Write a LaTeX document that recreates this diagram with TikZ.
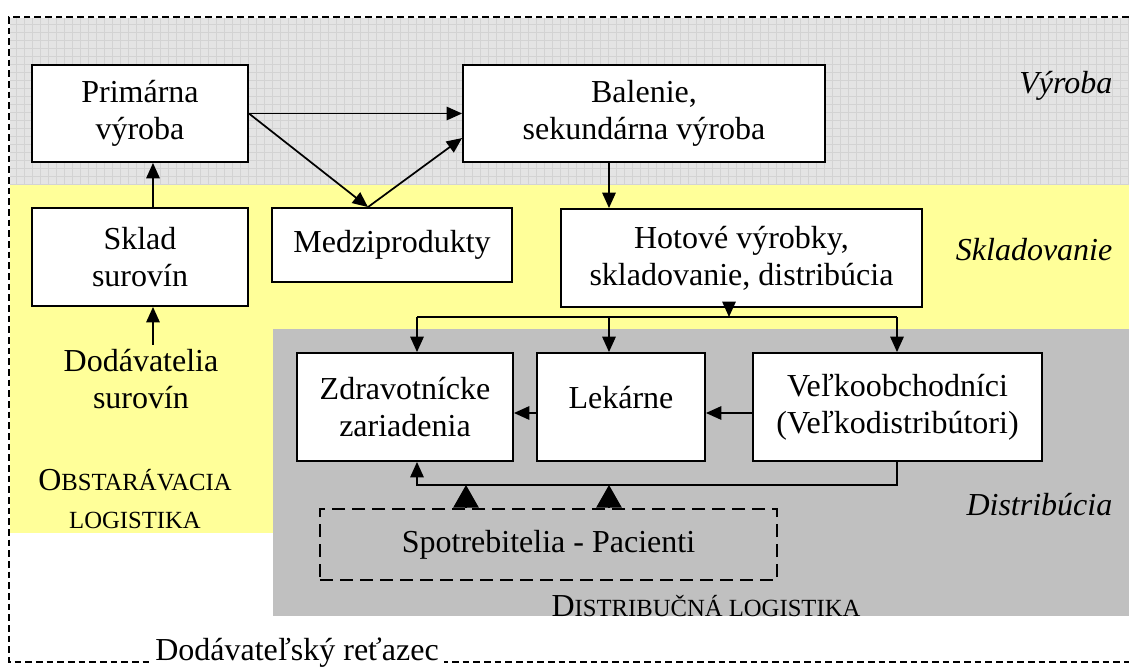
\documentclass[tikz,border=0pt]{standalone}
\usepackage{fontspec}
\setmainfont{Liberation Serif}
\usetikzlibrary{arrows.meta}

\definecolor{vyrobagray}{HTML}{E4E4E4}
\definecolor{gridgray}{HTML}{D3D3D3}
\definecolor{skladyellow}{HTML}{FFFF99}
\definecolor{distrgray}{HTML}{C0C0C0}

\newcommand{\scfake}[1]{{\fontsize{18.5}{28.5}\selectfont #1}}

\begin{document}
\begin{tikzpicture}[x=0.75pt,y=-0.75pt,
    font=\fontsize{24}{27.75}\selectfont,
    box/.style={draw, line width=1.4pt, fill=white, align=center, inner sep=2pt},
    conn/.style={line width=1.3pt},
    arr/.style={conn, -{Triangle[length=11.5pt,width=10pt]}},
    bigarr/.style={conn, -{Triangle[length=17pt,width=19pt]}},
    frame/.style={line width=1pt, dash pattern=on 5pt off 3pt},
    side/.style={anchor=base east, font=\fontsize{24}{27.75}\selectfont\itshape}]

    \useasboundingbox (0,0) rectangle (1129,671);

    % Background bands
    \fill[vyrobagray] (10,18) rectangle (1129,185);
    \draw[gridgray, line width=0.6pt, step=6pt] (10,18) grid (1129,185);
    \fill[skladyellow] (10,185) rectangle (1129,330);
    \fill[skladyellow] (10,330) rectangle (273,533);
    \fill[distrgray] (273,329) rectangle (1129,616);

    % Outer dashed frame
    \draw[frame] (1129,17) -- (9,17) -- (9,662) -- (1129,662);

    % Boxes
    \node[box, minimum width=162pt, minimum height=72.75pt] (prim) at (140,113.5) {Primárna\\výroba};
    \node[box, minimum width=271.5pt, minimum height=72.75pt] (bal) at (644,113.5) {Balenie,\\sekundárna výroba};
    \node[box, minimum width=162pt, minimum height=73.5pt] (sklad) at (140,257) {Sklad\\surovín};
    \node[box, minimum width=180pt, minimum height=55.5pt] (medzi) at (392,245) {Medziprodukty};
    \node[box, minimum width=270.75pt, minimum height=73.5pt] (hot) at (741.5,258) {Hotové výrobky,\\skladovanie, distribúcia};
    \node[box, minimum width=162pt, minimum height=81pt] (zdrav) at (405,407) {Zdravotnícke\\zariadenia};
    \node[box, minimum width=126pt, minimum height=81pt, text depth=15pt] (lek) at (621,407) {Lekárne};
    \node[box, minimum width=216.75pt, minimum height=81pt] (velk) at (897.5,407) {Veľkoobchodníci\\(Veľkodistribútori)};
    \node[box, line width=1.4pt, dash pattern=on 10pt off 5pt, fill=none, minimum width=342.75pt, minimum height=53.25pt] (spot) at (548.5,544.5) {Spotrebitelia - Pacienti};

    % Free texts
    \node[align=center] (dodav) at (141,379) {Dodávatelia\\surovín};
    \node[align=center, font=\fontsize{24}{28.5}\selectfont] (obst) at (135,499) {O\scfake{BSTARÁVACIA}\\\scfake{LOGISTIKA}};
    \node (distlog) at (706,606) {D\scfake{ISTRIBUČNÁ LOGISTIKA}};
    \node[fill=white, inner xsep=4pt, inner ysep=1pt] (retazec) at (297,653) {Dodávateľský reťazec};
    \node[side] (lvyroba) at (1117,93) {Výroba};
    \node[side] (lsklad) at (1117,260) {Skladovanie};
    \node[side] (ldistr) at (1117,515) {Distribúcia};

    % Columns and rows for the connectors
    \coordinate (colS) at (153,0);
    \coordinate (colA) at (417,0);
    \coordinate (colT) at (466,0);
    \coordinate (colB) at (609,0);
    \coordinate (colM) at (729,0);
    \coordinate (colC) at (897,0);
    \coordinate (busTop) at (0,317);
    \coordinate (busBot) at (0,485);
    \coordinate (rowH) at (0,413);

    % Procurement side
    \draw[arr] (colS |- dodav.north) -- (colS |- sklad.south);
    \draw[arr] (colS |- sklad.north) -- (colS |- prim.south);

    % Production
    \draw[arr] (prim.east) -- (bal.west);
    \draw[arr] (prim.east) -- ([xshift=-18pt]medzi.north);
    \draw[arr] ([xshift=-18pt]medzi.north) -- ([yshift=-18.4pt]bal.west);
    \draw[arr] (colB |- bal.south) -- (colB |- hot.north);

    % Distribution bus
    \draw[arr] (colM |- hot.south) -- (colM |- busTop);
    \draw[conn] (colA |- busTop) -- (colC |- busTop);
    \draw[arr] (colA |- busTop) -- (colA |- zdrav.north);
    \draw[arr] (colB |- busTop) -- (colB |- lek.north);
    \draw[arr] (colC |- busTop) -- (colC |- velk.north);
    \draw[arr] (velk.west |- rowH) -- (lek.east |- rowH);
    \draw[arr] (lek.west |- rowH) -- (zdrav.east |- rowH);
    \draw[arr] (colC |- velk.south) -- (colC |- busBot) -- (colA |- busBot) -- (colA |- zdrav.south);

    % Consumers
    \draw[bigarr] (colT |- spot.north) -- (colT |- busBot);
    \draw[bigarr] (colB |- spot.north) -- (colB |- busBot);

\end{tikzpicture}
\end{document}
